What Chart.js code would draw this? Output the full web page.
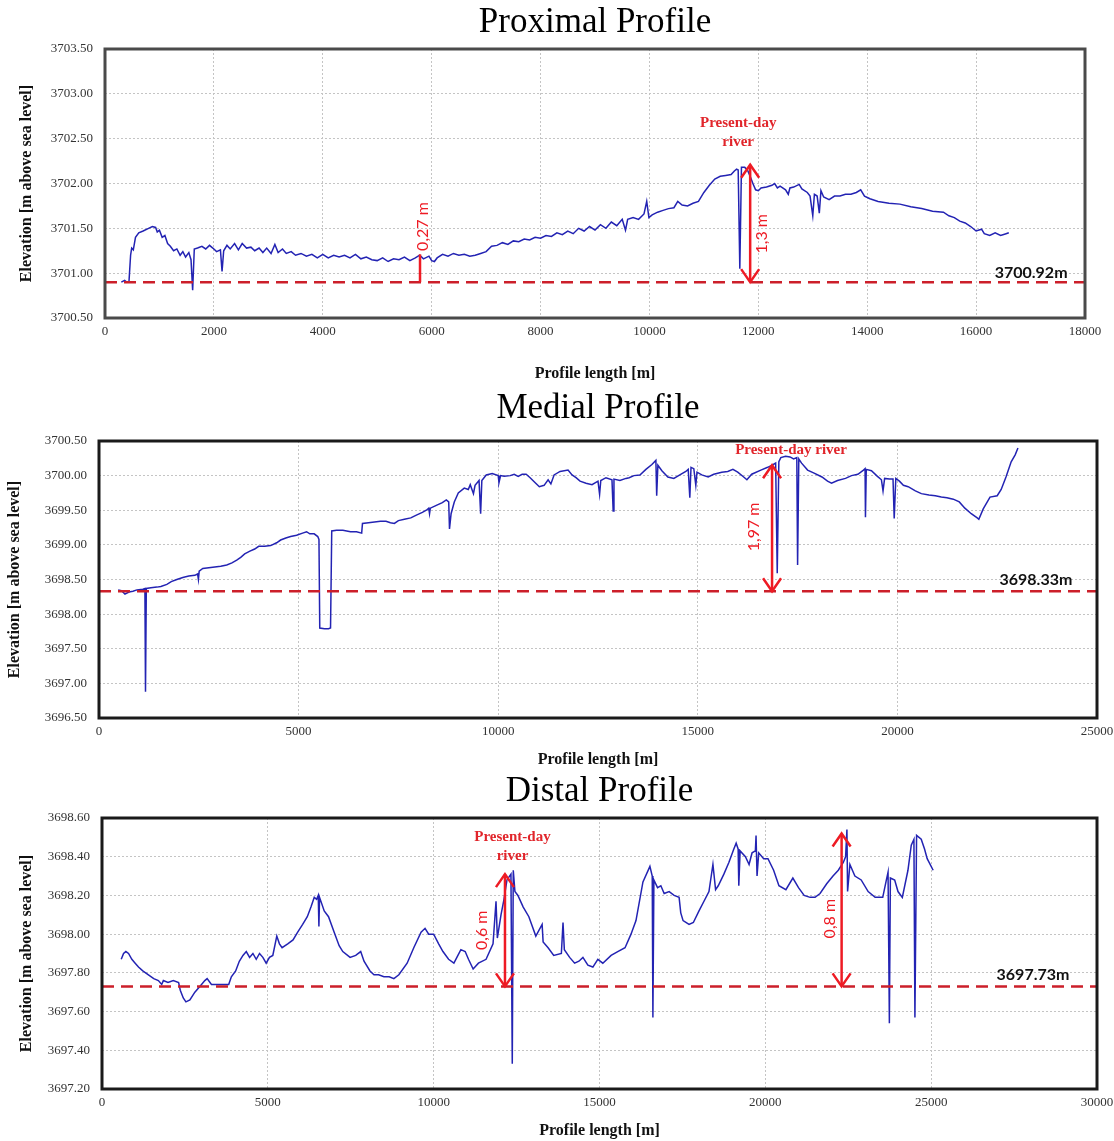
<!DOCTYPE html>
<html lang="en">
<head>
<meta charset="UTF-8">
<title>Proximal / Medial / Distal Profile</title>
<script src="https://cdn.jsdelivr.net/npm/chart.js@4.4.1/dist/chart.umd.min.js"></script>
<style>
    body { margin: 0; width: 1114px; height: 1141px; overflow: hidden; background: #fff; position: relative; }
    canvas { position: absolute; left: 0; }
</style>
</head>
<body>
<canvas id="proximal" width="1150" height="390" style="top:0px"></canvas>
<canvas id="medial" width="1150" height="380" style="top:390px"></canvas>
<canvas id="distal" width="1150" height="371" style="top:770px"></canvas>

<script>
    // ---- Proximal profile ----
    var dist1 = [300, 360, 400, 440, 470, 490, 520, 560, 620, 700, 800, 870, 930, 960, 1000, 1050, 1100, 1150, 1200, 1260,
        1320, 1380, 1430, 1480, 1540, 1580, 1610, 1640, 1700, 1780, 1850, 1920, 1980, 2050, 2120, 2150, 2180, 2240, 2300, 2380,
        2450, 2520, 2600, 2680, 2750, 2830, 2900, 2970, 3050, 3120, 3180, 3260, 3330, 3420, 3500, 3600, 3700, 3800, 3900, 4000,
        4100, 4200, 4300, 4400, 4500, 4600, 4700, 4800, 4900, 5000, 5100, 5200, 5300, 5400, 5500, 5600, 5700, 5780, 5850, 5950,
        6000, 6050, 6100, 6200, 6300, 6400, 6500, 6600, 6700, 6800, 6900, 7000, 7100, 7200, 7300, 7400, 7500, 7600, 7700, 7800,
        7900, 8000, 8100, 8200, 8300, 8400, 8500, 8600, 8700, 8800, 8900, 9000, 9100, 9200, 9300, 9400, 9500, 9560, 9600, 9700,
        9800, 9900, 9950, 9990, 10050, 10150, 10250, 10350, 10450, 10520, 10600, 10700, 10800, 10900, 11000, 11100, 11200, 11300, 11400, 11500,
        11560, 11600, 11630, 11660, 11690, 11750, 11800, 11850, 11900, 11950, 12000, 12050, 12150, 12250, 12300, 12350, 12400, 12500, 12550, 12580,
        12650, 12750, 12800, 12900, 12950, 13000, 13030, 13080, 13120, 13150, 13200, 13300, 13400, 13500, 13600, 13700, 13800, 13880, 13950, 14050,
        14200, 14400, 14600, 14800, 15000, 15200, 15400, 15500, 15600, 15700, 15800, 15900, 16000, 16100, 16150, 16250, 16350, 16450, 16550, 16600];
    var elev1 = [3700.90, 3700.92, 3700.90, 3700.90, 3701.20, 3701.28, 3701.26, 3701.40, 3701.45, 3701.47, 3701.50, 3701.52, 3701.51, 3701.46, 3701.48, 3701.40, 3701.42, 3701.33, 3701.30, 3701.25,
        3701.27, 3701.20, 3701.24, 3701.18, 3701.23, 3701.15, 3700.81, 3701.27, 3701.28, 3701.30, 3701.27, 3701.31, 3701.28, 3701.24, 3701.26, 3701.02, 3701.25, 3701.31, 3701.27, 3701.33,
        3701.26, 3701.33, 3701.28, 3701.29, 3701.25, 3701.28, 3701.23, 3701.28, 3701.22, 3701.32, 3701.23, 3701.27, 3701.22, 3701.24, 3701.20, 3701.22, 3701.19, 3701.21, 3701.17, 3701.21,
        3701.17, 3701.20, 3701.18, 3701.20, 3701.17, 3701.21, 3701.16, 3701.18, 3701.15, 3701.14, 3701.17, 3701.13, 3701.16, 3701.15, 3701.18, 3701.14, 3701.17, 3701.20, 3701.16, 3701.19,
        3701.14, 3701.13, 3701.17, 3701.21, 3701.19, 3701.22, 3701.20, 3701.21, 3701.19, 3701.20, 3701.22, 3701.24, 3701.30, 3701.31, 3701.34, 3701.32, 3701.36, 3701.35, 3701.38, 3701.37,
        3701.40, 3701.39, 3701.42, 3701.41, 3701.45, 3701.43, 3701.47, 3701.44, 3701.50, 3701.47, 3701.52, 3701.48, 3701.54, 3701.50, 3701.57, 3701.53, 3701.60, 3701.48, 3701.60, 3701.62,
        3701.60, 3701.66, 3701.80, 3701.62, 3701.65, 3701.68, 3701.70, 3701.72, 3701.73, 3701.80, 3701.76, 3701.75, 3701.78, 3701.80, 3701.90, 3701.98, 3702.05, 3702.08, 3702.09, 3702.10,
        3702.14, 3702.16, 3702.15, 3701.05, 3702.18, 3702.18, 3702.15, 3702.08, 3702.00, 3701.93, 3701.92, 3701.95, 3701.96, 3701.98, 3702.00, 3701.95, 3701.97, 3701.93, 3701.88, 3701.95,
        3701.96, 3701.99, 3701.94, 3701.90, 3701.86, 3701.64, 3701.88, 3701.86, 3701.67, 3701.92, 3701.85, 3701.82, 3701.86, 3701.86, 3701.88, 3701.88, 3701.90, 3701.93, 3701.86, 3701.83,
        3701.80, 3701.78, 3701.77, 3701.74, 3701.72, 3701.69, 3701.68, 3701.64, 3701.62, 3701.58, 3701.56, 3701.52, 3701.47, 3701.49, 3701.44, 3701.42, 3701.45, 3701.42, 3701.44, 3701.45];
    var xTicks1 = [0, 2000, 4000, 6000, 8000, 10000, 12000, 14000, 16000, 18000];
    var yTicks1 = [3700.5, 3701.0, 3701.5, 3702.0, 3702.5, 3703.0, 3703.5];
    var refLevel1 = 3700.9;

    // ---- Medial profile ----
    var dist2 = [480, 560, 650, 750, 850, 950, 1100, 1150, 1165, 1185, 1300, 1450, 1550, 1700, 1810, 1950, 2100, 2250, 2400, 2470,
        2490, 2510, 2600, 2750, 2900, 3050, 3200, 3330, 3450, 3550, 3650, 3780, 3900, 4000, 4150, 4300, 4450, 4550, 4680, 4800,
        4950, 5100, 5200, 5280, 5390, 5480, 5510, 5530, 5650, 5750, 5800, 5830, 5950, 6110, 6300, 6450, 6580, 6600, 6750, 6900,
        7050, 7190, 7300, 7400, 7500, 7650, 7810, 7950, 8100, 8200, 8260, 8280, 8300, 8450, 8600, 8700, 8760, 8780, 8820, 8900,
        9000, 9150, 9250, 9300, 9380, 9420, 9520, 9560, 9590, 9700, 9850, 10000, 10020, 10060, 10150, 10300, 10400, 10500, 10600, 10700,
        10800, 10940, 11030, 11150, 11250, 11320, 11400, 11550, 11750, 11850, 11950, 12050, 12200, 12350, 12500, 12540, 12570, 12700, 12850, 12880,
        12900, 13050, 13200, 13280, 13400, 13550, 13700, 13850, 13950, 13970, 14000, 14100, 14250, 14400, 14550, 14700, 14760, 14800, 14830, 14900,
        14950, 14980, 15100, 15260, 15400, 15600, 15750, 15880, 16000, 16150, 16230, 16350, 16580, 16750, 16860, 16950, 16990, 17030, 17080, 17200,
        17310, 17400, 17480, 17500, 17530, 17600, 17750, 17900, 18110, 18250, 18350, 18500, 18700, 18850, 19010, 19150, 19190, 19200, 19220, 19350,
        19500, 19600, 19640, 19680, 19800, 19890, 19920, 19960, 20050, 20150, 20270, 20450, 20600, 20790, 20950, 21100, 21240, 21400, 21550, 21690,
        21850, 22000, 22040, 22150, 22320, 22500, 22600, 22720, 22850, 22950, 23020];
    var elev2 = [3698.35, 3698.34, 3698.29, 3698.32, 3698.33, 3698.35, 3698.36, 3698.37, 3696.88, 3698.37, 3698.38, 3698.39, 3698.40, 3698.43, 3698.47, 3698.50, 3698.53, 3698.55, 3698.56, 3698.58,
        3698.50, 3698.62, 3698.66, 3698.67, 3698.68, 3698.69, 3698.71, 3698.74, 3698.78, 3698.82, 3698.87, 3698.91, 3698.94, 3698.98, 3698.98, 3698.99, 3699.03, 3699.07, 3699.10, 3699.12,
        3699.14, 3699.17, 3699.19, 3699.16, 3699.16, 3699.12, 3699.08, 3697.80, 3697.79, 3697.79, 3697.80, 3699.20, 3699.21, 3699.21, 3699.19, 3699.19, 3699.17, 3699.31, 3699.32, 3699.33,
        3699.34, 3699.34, 3699.32, 3699.31, 3699.35, 3699.37, 3699.39, 3699.43, 3699.47, 3699.50, 3699.53, 3699.45, 3699.53, 3699.57, 3699.61, 3699.65, 3699.62, 3699.23, 3699.45, 3699.62,
        3699.75, 3699.82, 3699.80, 3699.87, 3699.74, 3699.86, 3699.93, 3699.45, 3699.93, 3700.01, 3700.03, 3700.00, 3699.90, 3700.00, 3699.99, 3700.00, 3700.02, 3699.99, 3700.02, 3700.02,
        3699.97, 3699.89, 3699.84, 3699.86, 3699.94, 3699.88, 3700.01, 3700.06, 3700.08, 3700.01, 3699.97, 3699.92, 3699.89, 3699.87, 3699.92, 3699.73, 3699.93, 3699.97, 3699.94, 3699.49,
        3699.95, 3699.93, 3699.96, 3699.97, 3700.00, 3700.01, 3700.09, 3700.16, 3700.22, 3699.71, 3700.15, 3700.07, 3699.98, 3699.96, 3700.01, 3700.06, 3700.09, 3699.68, 3700.12, 3700.10,
        3699.86, 3700.05, 3700.01, 3699.98, 3700.02, 3700.05, 3700.06, 3700.09, 3700.05, 3699.98, 3699.94, 3700.02, 3700.08, 3700.12, 3700.15, 3700.18, 3698.59, 3700.20, 3700.26, 3700.28,
        3700.27, 3700.24, 3700.26, 3698.71, 3700.24, 3700.18, 3700.08, 3700.04, 3699.98, 3699.92, 3699.89, 3699.93, 3699.96, 3700.00, 3700.02, 3700.08, 3700.10, 3699.40, 3700.09, 3700.07,
        3699.99, 3699.94, 3699.78, 3699.96, 3699.95, 3699.95, 3699.38, 3699.96, 3699.92, 3699.86, 3699.84, 3699.78, 3699.74, 3699.72, 3699.71, 3699.69, 3699.68, 3699.66, 3699.62, 3699.53,
        3699.45, 3699.39, 3699.37, 3699.52, 3699.69, 3699.71, 3699.80, 3699.98, 3700.20, 3700.30, 3700.40];
    var xTicks2 = [0, 5000, 10000, 15000, 20000, 25000];
    var yTicks2 = [3696.5, 3697.0, 3697.5, 3698.0, 3698.5, 3699.0, 3699.5, 3700.0, 3700.5];
    var refLevel2 = 3698.33;

    // ---- Distal profile ----
    var dist3 = [580, 650, 720, 800, 900, 1000, 1100, 1230, 1400, 1560, 1700, 1800, 1850, 1990, 2150, 2310, 2360, 2450, 2530, 2650,
        2800, 2950, 3100, 3170, 3300, 3500, 3700, 3820, 3900, 4030, 4140, 4250, 4350, 4450, 4550, 4650, 4750, 4850, 4950, 5050,
        5150, 5270, 5350, 5430, 5600, 5760, 5900, 6050, 6190, 6300, 6400, 6470, 6520, 6540, 6560, 6700, 6830, 7000, 7150, 7260,
        7480, 7650, 7800, 7900, 8080, 8200, 8340, 8500, 8660, 8800, 8950, 9200, 9400, 9620, 9740, 9850, 10000, 10150, 10280, 10450,
        10610, 10700, 10820, 10950, 11050, 11190, 11350, 11580, 11790, 11880, 11920, 12030, 12120, 12210, 12330, 12370, 12400, 12450, 12540, 12700,
        12870, 13080, 13270, 13300, 13450, 13620, 13850, 13900, 13940, 14100, 14250, 14380, 14500, 14650, 14800, 14950, 15100, 15350, 15550, 15770,
        15950, 16100, 16310, 16520, 16590, 16610, 16640, 16750, 16850, 16950, 17100, 17250, 17400, 17450, 17520, 17700, 17830, 18000, 18150, 18300,
        18420, 18500, 18580, 18750, 18900, 19050, 19120, 19180, 19200, 19240, 19400, 19510, 19600, 19700, 19720, 19750, 19800, 19950, 20080, 20250,
        20410, 20620, 20830, 21000, 21170, 21350, 21500, 21650, 21850, 22040, 22200, 22350, 22420, 22460, 22480, 22550, 22700, 22890, 23100, 23310,
        23540, 23650, 23700, 23740, 23770, 23900, 24000, 24130, 24300, 24400, 24480, 24510, 24560, 24700, 24800, 24880, 25060];
    var elev3 = [3697.87, 3697.90, 3697.91, 3697.90, 3697.87, 3697.85, 3697.83, 3697.81, 3697.79, 3697.77, 3697.76, 3697.74, 3697.76, 3697.75, 3697.76, 3697.75, 3697.71, 3697.67, 3697.65, 3697.66,
        3697.70, 3697.73, 3697.76, 3697.77, 3697.74, 3697.74, 3697.74, 3697.74, 3697.78, 3697.81, 3697.86, 3697.89, 3697.91, 3697.88, 3697.90, 3697.87, 3697.90, 3697.88, 3697.85, 3697.88,
        3697.89, 3697.99, 3697.95, 3697.93, 3697.95, 3697.97, 3698.01, 3698.05, 3698.09, 3698.14, 3698.19, 3698.18, 3698.20, 3698.04, 3698.19, 3698.12, 3698.09, 3698.01, 3697.94, 3697.91,
        3697.88, 3697.89, 3697.91, 3697.86, 3697.81, 3697.79, 3697.79, 3697.78, 3697.78, 3697.77, 3697.79, 3697.85, 3697.93, 3698.01, 3698.03, 3698.00, 3698.00, 3697.95, 3697.91, 3697.87,
        3697.85, 3697.88, 3697.92, 3697.91, 3697.87, 3697.82, 3697.85, 3697.87, 3697.95, 3698.17, 3697.98, 3698.10, 3698.18, 3698.28, 3698.31, 3697.33, 3698.33, 3698.22, 3698.20, 3698.14,
        3698.09, 3697.99, 3698.05, 3697.96, 3697.93, 3697.89, 3697.90, 3698.06, 3697.92, 3697.88, 3697.85, 3697.86, 3697.88, 3697.84, 3697.83, 3697.87, 3697.85, 3697.89, 3697.91, 3697.93,
        3698.00, 3698.07, 3698.27, 3698.35, 3698.30, 3697.57, 3698.28, 3698.24, 3698.25, 3698.21, 3698.22, 3698.20, 3698.19, 3698.11, 3698.07, 3698.05, 3698.06, 3698.12, 3698.17, 3698.22,
        3698.36, 3698.23, 3698.25, 3698.31, 3698.37, 3698.44, 3698.47, 3698.44, 3698.25, 3698.43, 3698.40, 3698.36, 3698.42, 3698.43, 3698.51, 3698.30, 3698.42, 3698.39, 3698.39, 3698.33,
        3698.25, 3698.23, 3698.29, 3698.24, 3698.20, 3698.19, 3698.19, 3698.21, 3698.26, 3698.30, 3698.33, 3698.37, 3698.40, 3698.54, 3698.22, 3698.36, 3698.30, 3698.28, 3698.22, 3698.19,
        3698.19, 3698.28, 3698.32, 3697.54, 3698.29, 3698.28, 3698.22, 3698.19, 3698.33, 3698.46, 3698.49, 3697.57, 3698.51, 3698.49, 3698.44, 3698.39, 3698.33];
    var xTicks3 = [0, 5000, 10000, 15000, 20000, 25000, 30000];
    var yTicks3 = [3697.2, 3697.4, 3697.6, 3697.8, 3698.0, 3698.2, 3698.4, 3698.6];
    var refLevel3 = 3697.73;

    var SERIF = "'Liberation Serif', 'Times New Roman', serif";
    var SANS = "Lato, 'Liberation Sans', sans-serif";
    var BLUE = '#2323b3';
    var RED = '#ee1b24';
    var DASH_RED = '#cc1f2a';

    // arrows, red notes etc. drawn on top of the datasets
    function marksPlugin(p) {
        return {
            id: 'marks',
            afterDatasetsDraw: function (chart) {
                var c = chart.ctx, a = chart.chartArea;
                var xs = chart.scales.x, ys = chart.scales.y;
                c.save();

                c.strokeStyle = p.frame;
                c.lineWidth = 3;
                c.strokeRect(a.left, a.top, a.right - a.left, a.bottom - a.top);

                c.strokeStyle = RED;
                c.lineWidth = 2.5;
                p.arrows.forEach(function (ar) {
                    if (!ar.heads) return;
                    var x = xs.getPixelForValue(ar.x);
                    var yt = ys.getPixelForValue(ar.top), yb = ys.getPixelForValue(p.ref);
                    c.beginPath();
                    c.moveTo(x - 9, yt + 13); c.lineTo(x, yt); c.lineTo(x + 9, yt + 13);
                    c.moveTo(x - 9, yb - 13); c.lineTo(x, yb); c.lineTo(x + 9, yb - 13);
                    c.stroke();
                });

                c.fillStyle = RED;
                c.font = '16px ' + SANS;
                c.textAlign = 'center';
                c.textBaseline = 'middle';
                p.measures.forEach(function (m) {
                    c.save();
                    c.translate(xs.getPixelForValue(m.x) + m.dx, ys.getPixelForValue(m.y));
                    c.rotate(-Math.PI / 2);
                    c.fillText(m.text, 0, 0);
                    c.restore();
                });

                c.fillStyle = '#e1252b';
                c.font = 'bold 15px ' + SERIF;
                p.notes.forEach(function (n) {
                    var x = xs.getPixelForValue(n.x), y = ys.getPixelForValue(n.y);
                    n.lines.forEach(function (t, i) {
                        c.fillText(t, x, y + i * 19);
                    });
                });

                c.fillStyle = '#111';
                c.font = 'bold 16px ' + SANS;
                c.fillText(p.refText, xs.getPixelForValue(p.refAt[0]), ys.getPixelForValue(p.refAt[1]));
                c.restore();
            }
        };
    }

    function buildChart(canvasId, p) {
        var ctx = document.getElementById(canvasId).getContext('2d');
        var xFirst = p.xTicks[0], xLast = p.xTicks[p.xTicks.length - 1];
        var profile = p.dist.map(function (d, i) {
            return {x: d, y: p.elev[i]};
        });

        var datasets = [
            {data: profile, borderColor: BLUE, borderWidth: 1.5, order: 3},
            {data: [{x: xFirst, y: p.ref}, {x: xLast, y: p.ref}], borderColor: DASH_RED, borderWidth: 2.5, borderDash: [12, 7], order: 1}
        ];
        p.arrows.forEach(function (ar) {
            datasets.push({data: [{x: ar.x, y: p.ref}, {x: ar.x, y: ar.top}], borderColor: RED, borderWidth: 2.5, order: 0});
        });

        return new Chart(ctx, {
            type: 'line',
            data: {datasets: datasets},
            options: {
                responsive: false,
                animation: false,
                devicePixelRatio: 1,
                elements: {point: {radius: 0}, line: {tension: 0}},
                layout: {padding: {left: 0, right: 1150 - p.right, top: 0, bottom: 0}},
                plugins: {
                    legend: {display: false},
                    tooltip: {enabled: false},
                    title: {
                        display: true, text: p.title, fullSize: false, color: '#000',
                        font: {family: SERIF, size: 35, weight: 'normal', lineHeight: 1},
                        padding: {top: p.titlePad[0], bottom: p.titlePad[1]}
                    }
                },
                scales: {
                    x: {
                        type: 'linear', min: xFirst, max: xLast,
                        afterBuildTicks: function (s) {
                            s.ticks = p.xTicks.map(function (v) { return {value: v}; });
                        },
                        afterFit: function (s) { s.height = p.xAxisHeight; },
                        grid: {color: '#c4c4c4', drawTicks: false},
                        border: {display: false, dash: [2, 2]},
                        ticks: {
                            padding: 6, color: '#333', maxRotation: 0,
                            font: {family: SERIF, size: 13},
                            callback: function (v) { return String(v); }
                        },
                        title: {
                            display: true, text: 'Profile length [m]', color: '#111',
                            font: {family: SERIF, size: 16, weight: 'bold'},
                            padding: {top: 0, bottom: p.xTitlePad}
                        }
                    },
                    y: {
                        min: p.yTicks[0], max: p.yTicks[p.yTicks.length - 1],
                        afterBuildTicks: function (s) {
                            s.ticks = p.yTicks.map(function (v) { return {value: v}; });
                        },
                        afterFit: function (s) { s.width = p.left; },
                        grid: {color: '#c4c4c4', drawTicks: false},
                        border: {display: false, dash: [2, 2]},
                        ticks: {
                            padding: 12, color: '#333',
                            font: {family: SERIF, size: 13},
                            callback: function (v) { return v.toFixed(2); }
                        },
                        title: {
                            display: true, text: 'Elevation [m above sea level]', color: '#111',
                            font: {family: SERIF, size: 16, weight: 'bold'},
                            padding: {top: p.yTitlePad, bottom: 0}
                        }
                    }
                }
            },
            plugins: [marksPlugin(p)]
        });
    }

    buildChart('proximal', {
        title: 'Proximal Profile', dist: dist1, elev: elev1, xTicks: xTicks1, yTicks: yTicks1, ref: refLevel1,
        left: 105, right: 1085, titlePad: [5, 9], xAxisHeight: 72, xTitlePad: 7, yTitlePad: 17, frame: '#4a4a4a',
        arrows: [{x: 5786, top: 3701.21, heads: false}, {x: 11850, top: 3702.21, heads: true}],
        measures: [{text: '0,27 m', x: 5786, y: 3701.52, dx: 3}, {text: '1,3 m', x: 11850, y: 3701.44, dx: 12}],
        notes: [{lines: ['Present-day', 'river'], x: 11630, y: 3702.67}],
        refText: '3700.92m', refAt: [17010, 3701.0]
    });

    buildChart('medial', {
        title: 'Medial Profile', dist: dist2, elev: elev2, xTicks: xTicks2, yTicks: yTicks2, ref: refLevel2,
        left: 99, right: 1097, titlePad: [1, 15], xAxisHeight: 52, xTitlePad: 1, yTitlePad: 5, frame: '#1a1a1a',
        arrows: [{x: 16860, top: 3700.15, heads: true}],
        measures: [{text: '1,97 m', x: 16860, y: 3699.26, dx: -18}],
        notes: [{lines: ['Present-day river'], x: 17335, y: 3700.37}],
        refText: '3698.33m', refAt: [23470, 3698.49]
    });

    buildChart('distal', {
        title: 'Distal Profile', dist: dist3, elev: elev3, xTicks: xTicks3, yTicks: yTicks3, ref: refLevel3,
        left: 102, right: 1097, titlePad: [4, 9], xAxisHeight: 52, xTitlePad: 1, yTitlePad: 17, frame: '#1a1a1a',
        arrows: [{x: 12150, top: 3698.31, heads: true}, {x: 22300, top: 3698.52, heads: true}],
        measures: [{text: '0,6 m', x: 12150, y: 3698.02, dx: -23}, {text: '0,8 m', x: 22300, y: 3698.08, dx: -12}],
        notes: [{lines: ['Present-day', 'river'], x: 12377, y: 3698.50}],
        refText: '3697.73m', refAt: [28070, 3697.79]
    });
</script>
</body>
</html>
